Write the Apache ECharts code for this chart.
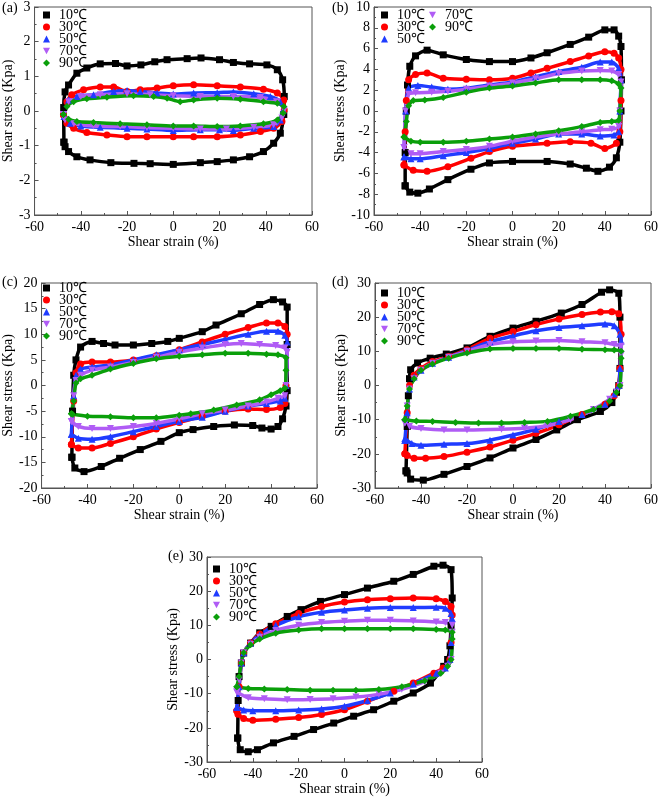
<!DOCTYPE html>
<html><head><meta charset="utf-8">
<script src="https://cdn.jsdelivr.net/npm/echarts@6/dist/echarts.min.js"></script>
<style>html,body{margin:0;padding:0;background:#fff}#c{width:661px;height:797px}</style>
</head><body><div id="c"></div>
<script>
const temps = ['10℃','30℃','50℃','70℃','90℃'];
const panelLabels = ['(a)','(b)','(c)','(d)','(e)'];
const xTicks = {min:-60, max:60, interval:20};
const yRanges = [[-3,3,1],[-10,10,2],[-20,20,5],[-30,30,10],[-30,30,10]];

// (a)
const a10 = [[-47.3,-0.9],[-47.4,0.1],[-46.8,0.55],[-45.3,0.75],[-41.7,1.09],[-37.4,1.24],[-31.6,1.36],[-25,1.37],[-20,1.3],[-14,1.33],[-8,1.42],[-2.7,1.48],[6,1.51],[12,1.53],[20,1.48],[26,1.4],[33,1.36],[40.5,1.33],[45,1.19],[47.3,0.9],[48,0.42],[47.8,-0.1],[46.3,-0.64],[43.4,-0.93],[39,-1.17],[33,-1.32],[26,-1.41],[19,-1.46],[11.7,-1.49],[0,-1.54],[-10,-1.52],[-17,-1.51],[-27,-1.49],[-36,-1.41],[-41.7,-1.32],[-45.3,-1.17],[-46.8,-1.03]];
const a30 = [[-47.5,-0.11],[-46,0.27],[-43.9,0.47],[-38.8,0.61],[-31.6,0.69],[-25.8,0.69],[-20,0.56],[-14.3,0.61],[-7,0.66],[0,0.73],[8.8,0.76],[19,0.73],[29,0.69],[39,0.63],[45,0.52],[47.8,0.32],[48,0.03],[47,-0.3],[43.4,-0.5],[37.7,-0.59],[29,-0.69],[19,-0.74],[8.8,-0.74],[0,-0.74],[-11.4,-0.74],[-20,-0.74],[-28.7,-0.69],[-37.4,-0.62],[-43.1,-0.5],[-46,-0.35]];
const a50 = [[-47.2,-0.16],[-45.3,0.32],[-41.7,0.42],[-34.5,0.47],[-25.8,0.56],[-20,0.59],[-14.3,0.56],[-7,0.52],[0,0.49],[8.8,0.52],[19,0.53],[26,0.55],[34.8,0.5],[42,0.42],[46.3,0.27],[47.5,0.03],[46.3,-0.26],[43.4,-0.45],[34.8,-0.5],[26,-0.56],[20,-0.54],[11.7,-0.54],[0,-0.56],[-11.4,-0.52],[-20,-0.5],[-31.6,-0.47],[-40,-0.43],[-44.6,-0.35]];
const a70 = [[-47.5,-0.1],[-45.3,0.27],[-40,0.42],[-31.6,0.47],[-20,0.5],[-10,0.47],[0,0.44],[11.7,0.42],[26,0.42],[37.7,0.39],[45,0.27],[48,0.03],[47,-0.2],[43.4,-0.4],[34.8,-0.47],[23,-0.52],[11.7,-0.52],[0,-0.5],[-11.4,-0.48],[-23,-0.45],[-34.5,-0.43],[-43,-0.37],[-46.8,-0.26]];
const a90 = [[-47.5,-0.1],[-46,0.13],[-43.1,0.27],[-37.4,0.35],[-28.7,0.4],[-17.2,0.44],[-8.5,0.42],[-2.7,0.37],[3,0.27],[8.8,0.32],[19,0.37],[29,0.34],[39,0.27],[45,0.22],[47.8,0.13],[47.5,-0.06],[45,-0.26],[39,-0.37],[29,-0.43],[19,-0.45],[8.8,-0.43],[0,-0.43],[-11.4,-0.4],[-23,-0.37],[-34.5,-0.33],[-41.7,-0.3],[-45.3,-0.24]];
// (b)
const b10 = [[-46.5,-7.2],[-46.5,-4],[-46,0],[-45.5,2.5],[-44.5,4.3],[-42,5.3],[-37,5.85],[-30,5.4],[-20,4.95],[-10,4.75],[0,4.75],[8,5.1],[15,5.6],[25,6.4],[33,7.1],[40,7.8],[44,7.8],[46,7.2],[47,6.2],[47.2,3],[47,0],[46.5,-3],[45,-4.5],[42,-5.4],[37,-5.8],[32,-5.5],[25,-5.1],[15,-4.85],[0,-4.85],[-10,-5.0],[-18,-5.6],[-28,-6.6],[-36,-7.5],[-41,-7.9],[-44.5,-7.8]];
const b30 = [[-47,-5.2],[-46.5,-2],[-46,1],[-45,3],[-42,3.5],[-37,3.65],[-30,3.15],[-20,3.05],[-10,3.0],[0,3.15],[8,3.65],[15,4.1],[25,4.75],[33,5.3],[40,5.7],[44,5.55],[46,5.1],[47,4],[47,1],[46.5,-2],[45,-3.1],[40,-3.6],[34,-3.1],[25,-2.95],[15,-3.1],[0,-3.4],[-10,-3.9],[-18,-4.55],[-28,-5.35],[-37,-5.8],[-43,-5.7]];
const b50 = [[-47,-4.4],[-46.3,0],[-45,2.2],[-41,2.45],[-35,2.3],[-28,2.1],[-20,2.2],[-10,2.5],[0,2.8],[10,3.3],[20,3.8],[30,4.2],[38,4.7],[43,4.7],[46,4.1],[47,3],[46.5,0],[46,-2],[44,-2.3],[38,-2.4],[30,-2.2],[20,-2.2],[10,-2.7],[0,-3.1],[-10,-3.6],[-20,-4.0],[-30,-4.3],[-40,-4.6],[-44,-4.6]];
const b70 = [[-47,-3.5],[-46.3,0],[-45,1.6],[-42,1.75],[-35,1.8],[-28,1.9],[-20,2.1],[-10,2.4],[0,2.7],[10,3.1],[20,3.6],[30,3.85],[38,3.9],[43,3.85],[46,3.5],[47,2.8],[46.5,0],[46,-1.5],[43,-1.75],[38,-1.8],[30,-2.0],[20,-2.2],[10,-2.5],[0,-2.9],[-10,-3.4],[-20,-3.7],[-30,-3.9],[-40,-4.1],[-44,-4.1]];
const b90 = [[-47,-2.5],[-46,-1],[-45,0.5],[-43,1.0],[-38,1.05],[-30,1.3],[-20,1.8],[-10,2.2],[0,2.4],[10,2.7],[20,3.0],[30,3.0],[38,3.0],[43,2.9],[46,2.6],[47,2.2],[46.5,0],[46,-0.9],[43,-1.0],[38,-1.1],[30,-1.5],[20,-1.9],[10,-2.2],[0,-2.5],[-10,-2.7],[-20,-2.9],[-30,-3.0],[-40,-3.0],[-44,-2.9]];
// (c)
const c10 = [[-46.8,-14],[-46.5,-5],[-46,2],[-45,5],[-43,7.5],[-38,8.6],[-33,8.2],[-28,7.9],[-20,7.9],[-12,8.2],[-5,8.6],[0,9.2],[10,10.5],[16,11.8],[27,14],[35,15.8],[41,16.75],[45,16.3],[47,15.3],[47,8],[47,-1],[46.5,-4],[45,-6.5],[43,-8],[40,-8.5],[36,-8.3],[32,-7.8],[24,-7.7],[15,-8],[6,-8.6],[0,-9.2],[-8,-10.9],[-17,-12.5],[-26,-14.2],[-34,-15.8],[-41.5,-16.8],[-45.5,-16.1]];
const c30 = [[-47,-11.5],[-46,-3],[-45,2.5],[-43,4.2],[-38,4.6],[-30,4.6],[-20,5.0],[-10,5.8],[0,7.0],[10,8.5],[20,10],[30,11.3],[38,12.2],[43,12.2],[46,11.5],[47,10],[46.5,0],[46,-3.5],[44,-4.3],[38,-4.7],[30,-4.6],[20,-5.0],[10,-6.0],[0,-7.2],[-10,-8.5],[-20,-10],[-30,-11.3],[-38,-12.2],[-44,-12.2]];
const c50 = [[-47,-9.5],[-46,-2],[-45,2],[-43,3.2],[-38,3.6],[-30,4.0],[-20,5.0],[-10,6.0],[0,7.0],[10,8.0],[20,9.0],[30,10],[38,10.6],[43,10.6],[46,9.8],[47,8.5],[46.5,0],[46,-2.5],[44,-3],[38,-3.5],[30,-4.0],[20,-5.0],[10,-6.2],[0,-7.0],[-10,-8.0],[-20,-9],[-30,-10],[-38,-10.5],[-44,-10.3]];
const c70 = [[-47,-7],[-46,-2],[-45,1],[-43,2],[-38,3],[-30,3.6],[-20,4.5],[-10,5.5],[0,6.5],[10,7.3],[20,8.0],[27,8.2],[35,8.0],[42,7.8],[46,7.3],[47,6.5],[46.5,0],[46,-2],[43,-2.5],[38,-3.2],[30,-4.0],[20,-4.8],[10,-5.5],[0,-6.5],[-10,-7.4],[-20,-8.0],[-30,-8.4],[-38,-8.4],[-44,-8.0]];
const c90 = [[-47,-5.5],[-46,-3],[-45,0.5],[-43,1.3],[-38,2],[-30,3.2],[-20,4.3],[-10,5.2],[0,5.7],[10,6.0],[20,6.3],[30,6.3],[38,6.1],[43,6.0],[46.5,5.4],[46.5,3],[46,-0.5],[44,-1],[40,-1.8],[35,-2.8],[25,-3.8],[15,-4.8],[5,-5.5],[0,-5.8],[-10,-6.3],[-20,-6.3],[-30,-6.1],[-40,-6],[-46.5,-5.6]];
// (d)
const d10 = [[-46.5,-25],[-46,-12],[-45.5,-3],[-45,2],[-44.5,4.6],[-41.5,6.6],[-36,8],[-29,9.2],[-20,11],[-10,14.4],[0,16.8],[10,18.8],[21,21.2],[30,23.7],[38.5,27.3],[42,28],[46,27],[46.5,20],[46.5,5],[46,0],[45,-2],[43,-5],[38,-7.6],[28,-10],[19,-13],[10,-15.8],[0,-18.3],[-10,-21.2],[-20,-23.7],[-30,-26],[-39,-27.7],[-44.5,-27.4],[-46,-25.6]];
const d30 = [[-47,-20],[-46,-8],[-45,0],[-43,3],[-40,5],[-35,7],[-28,8.5],[-20,10.5],[-10,13.8],[0,15.8],[10,17.8],[20,19.5],[30,20.8],[38,21.5],[43,21.6],[46,21],[47,15],[46.5,5],[46,0],[44,-3],[40,-5.5],[30,-8.5],[20,-11.5],[10,-14],[0,-16],[-10,-18],[-20,-19.5],[-30,-20.8],[-38,-21.3],[-43,-21.3],[-46,-20.5]];
const d50 = [[-47,-16],[-46,-8],[-45,-1],[-43,2.5],[-40,4.5],[-35,6.5],[-28,8.3],[-20,10.2],[-10,12.8],[0,14.5],[10,16],[20,17],[30,17.5],[40,18],[44,17.5],[46.5,15],[47,13],[46.5,5],[46,0],[44,-2.5],[40,-5.5],[30,-8.5],[20,-10.5],[10,-12.8],[0,-14.5],[-10,-16],[-20,-17],[-30,-17.2],[-40,-17.5],[-44,-17],[-47,-15.5]];
const d70 = [[-47,-11],[-46,-6],[-45,-1],[-43,2],[-40,4.5],[-35,6.5],[-28,8.3],[-20,10],[-10,12],[0,12.8],[10,13],[20,13.2],[30,12.8],[40,12.5],[44,12],[47,11.5],[47,9],[46.5,0],[45,-2],[42,-4],[35,-7],[25,-10],[15,-11.8],[5,-12.5],[-5,-12.8],[-20,-13.0],[-30,-13],[-40,-12.6],[-45,-12]];
const d90 = [[-47,-10],[-46,-6],[-45,-1],[-43,2],[-40,4.5],[-35,6.3],[-28,8],[-20,9.5],[-10,10.7],[0,10.8],[10,10.8],[20,10.8],[30,10.6],[40,10.5],[44,10.4],[47,10],[47,8],[46.5,0],[45,-2],[42,-4.5],[35,-7],[25,-9],[15,-10.5],[5,-10.8],[-5,-11],[-15,-11],[-25,-10.8],[-35,-10.5],[-42,-10.4]];
// (e)
const e10 = [[-46.6,-23],[-46.4,-12],[-46,-5],[-45,-1],[-44,1.9],[-41,4.8],[-37,7.8],[-32,9.7],[-25,12.6],[-19,14.6],[-10.5,17],[0,19],[10,20.9],[21.5,22.9],[30,24.9],[39,27.3],[43,27.6],[46.5,26.3],[47,18],[46.5,10],[46,4],[45,0],[43.3,-2],[37.5,-6.9],[30,-9.8],[21.5,-12.2],[12.7,-14.7],[4,-16.6],[-4.7,-18.6],[-13.5,-20.5],[-22,-22.5],[-31,-24.4],[-38,-26.4],[-42,-27],[-45.5,-26.4]];
const e30 = [[-47,-15],[-46,-8],[-45,-1],[-44,2],[-41,4.8],[-37,7.5],[-30,10.5],[-20,13.5],[-10,15.5],[0,16.8],[10,17.5],[20,17.8],[30,18],[40,17.8],[44,17],[46.5,15.5],[47,13],[46.5,5],[46,0],[43,-2.5],[39,-4],[30,-6.9],[21.5,-9.3],[10,-12.2],[0,-14.7],[-10,-16.1],[-20,-17],[-30,-17.5],[-40,-17.8],[-44,-17.3],[-46.5,-16]];
const e50 = [[-47,-14],[-46,-8],[-45,-1],[-44,2],[-41,4.8],[-37,7.2],[-30,10],[-20,12.5],[-10,13.8],[0,14.5],[10,15],[20,15.2],[30,15.2],[40,15.3],[44,15],[46.5,13.5],[47,12],[46.5,5],[46,0],[44,-2.5],[40,-4],[30,-7.2],[20,-9.8],[10,-12],[0,-13.7],[-10,-14.5],[-20,-14.8],[-30,-15],[-40,-15],[-44,-14.8]];
const e70 = [[-47,-9.5],[-46,-6],[-45,-1],[-44,2],[-41,4.5],[-37,6.5],[-30,8.5],[-20,10],[-10,10.8],[0,11.2],[10,11.5],[20,11.5],[30,11.3],[40,11],[44,10.8],[47,10],[47,8],[46.5,0],[45,-2],[42,-4],[35,-6.5],[25,-8.7],[15,-10.2],[5,-11],[-5,-11.5],[-15,-11.7],[-25,-11.8],[-35,-11.5],[-42,-11.2]];
const e90 = [[-47,-8],[-46,-5],[-45,-1],[-44,2],[-41,4.3],[-37,6],[-30,7.7],[-20,8.6],[-10,9],[0,9],[10,9],[20,9],[30,9],[40,8.8],[44,8.6],[47,8],[47,6],[46.5,0],[45,-2],[42,-4],[35,-6.2],[25,-8],[15,-8.8],[5,-9],[-5,-9],[-15,-9],[-25,-8.8],[-35,-8.6],[-42,-8.5]];

const panelData = [[a10,a30,a50,a70,a90],[b10,b30,b50,b70,b90],[c10,c30,c50,c70,c90],[d10,d30,d50,d70,d90],[e10,e30,e50,e70,e90]];

const colors = ['#000000','#ff0000','#1f3cff','#b05cf5','#0a9f0a'];
const symbols = ['rect','circle','triangle','path://M0,0L10,0L5,9Z','diamond'];
const FONT = "'Liberation Serif','Times New Roman',serif";

const grids = [
  {left:34, top:7, width:278, height:208},
  {left:374, top:7, width:277, height:208},
  {left:40, top:283, width:277, height:205},
  {left:375, top:283, width:277, height:205},
  {left:207, top:557, width:275, height:205}
];
const yNameGaps = [14, 23, 19, 22, 24];
const xNameGaps = [20, 20, 18, 20, 18];
const labelPos = [[2,1],[332,1],[2,275],[332,275],[168,549]];
// legend blocks: [left, top, indices of temps]
const legendBlocks = [[43,8,[0,1,2,3,4]],[381,8,[0,1,2]],[429,8,[3,4]],[43,281,[0,1,2,3,4]],[381,286,[0,1,2,3,4]],[213,562,[0,1,2,3,4]]];

const axisColor = '#555';
const option = {
  animation:false,
  backgroundColor:'#fff',
  title: panelLabels.map((t,i)=>({text:t, left:labelPos[i][0], top:labelPos[i][1], padding:0,
    textStyle:{fontFamily:FONT, fontSize:14, fontWeight:'normal', color:'#000'}})),
  grid: grids.map(g=>Object.assign({show:true, borderColor:axisColor, borderWidth:1, backgroundColor:'transparent'}, g)),
  legend: legendBlocks.map(p=>({orient:'vertical', left:p[0], top:p[1], padding:0, itemGap:-2, itemWidth:7, itemHeight:7,
      selectedMode:false,
      textStyle:{fontFamily:FONT, fontSize:14, color:'#000', padding:[0,0,0,4]},
      data: p[2].map(j=>({name:temps[j], icon:symbols[j], itemStyle:{color:colors[j]}}))})),
  xAxis: grids.map((g,i)=>({type:'value', gridIndex:i, min:xTicks.min, max:xTicks.max, interval:xTicks.interval,
    name:'Shear strain (%)', nameLocation:'middle', nameGap:xNameGaps[i],
    nameTextStyle:{fontFamily:FONT, fontSize:14, color:'#000'},
    axisLine:{show:true, onZero:false, lineStyle:{color:axisColor}},
    axisTick:{show:true, inside:true, length:4, lineStyle:{color:axisColor}},
    minorTick:{show:true, splitNumber:2, length:2, lineStyle:{color:axisColor}},
    splitLine:{show:false},
    axisLabel:{fontFamily:FONT, fontSize:14, color:'#000', margin:5}})),
  yAxis: grids.map((g,i)=>({type:'value', gridIndex:i, min:yRanges[i][0], max:yRanges[i][1], interval:yRanges[i][2],
    name:'Shear stress (Kpa)', nameLocation:'middle', nameGap:yNameGaps[i],
    nameTextStyle:{fontFamily:FONT, fontSize:14, color:'#000'},
    axisLine:{show:true, onZero:false, lineStyle:{color:axisColor}},
    axisTick:{show:true, inside:true, length:4, lineStyle:{color:axisColor}},
    minorTick:{show:true, splitNumber:2, length:2, lineStyle:{color:axisColor}},
    splitLine:{show:false},
    axisLabel:{fontFamily:FONT, fontSize:14, color:'#000', margin:4}})),
  series: []
};
panelData.forEach((arr,i)=>{
  arr.forEach((d,j)=>{
    option.series.push({
      type:'line', name:temps[j], xAxisIndex:i, yAxisIndex:i,
      data: d.concat([d[0]]),
      smooth:0.25,
      symbol:symbols[j], symbolSize:7, showAllSymbol:true,
      lineStyle:{color:colors[j], width:3.5},
      itemStyle:{color:colors[j]},
      emphasis:{disabled:true}
    });
  });
});
const chart = echarts.init(document.getElementById('c'), null, {renderer:'canvas'});
chart.setOption(option);
</script></body></html>
